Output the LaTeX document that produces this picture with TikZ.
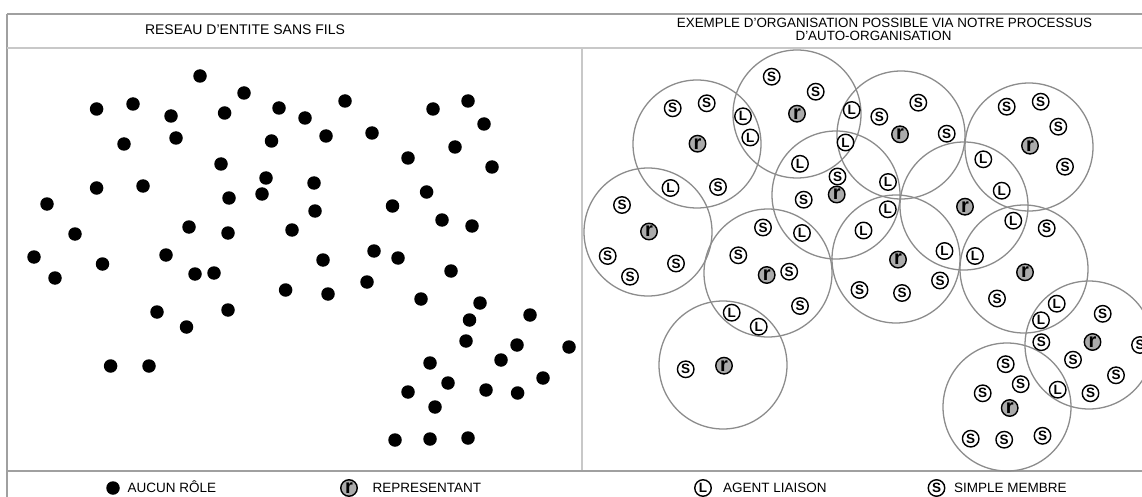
\documentclass[tikz,border=0pt]{standalone}
\usepackage{fontspec}
\setmainfont{Liberation Sans}
\definecolor{circgray}{HTML}{8C8C8C}
\definecolor{linegray}{HTML}{A0A0A0}
\definecolor{lightline}{HTML}{C8C8C8}
\definecolor{repfill}{HTML}{ABABAB}
\begin{document}
\begin{tikzpicture}[x=1pt,y=-1pt,
  blackdot/.style={circle,fill=black,inner sep=0pt,minimum size=13.5pt},
  cluster/.style={circle,draw=circgray,line width=1.3pt,inner sep=0pt,minimum size=128pt},
  sym/.style={circle,draw=black,line width=1.4pt,fill=white,inner sep=0pt,minimum size=16.5pt,
    font=\fontsize{13.5}{14}\selectfont\bfseries},
  rep/.style={sym,fill=repfill,font=\fontsize{20}{20}\selectfont\bfseries},
  title/.style={inner sep=0pt,anchor=base,font=\fontsize{14}{14}\selectfont},
  subtitle/.style={inner sep=0pt,anchor=base,font=\fontsize{13.4}{13.4}\selectfont},
  legtext/.style={inner sep=0pt,anchor=base west,font=\fontsize{13.5}{14}\selectfont}]
\useasboundingbox (0,0) rectangle (1142,497);
\fill[white] (0,0) rectangle (1142,497);
% frame
\draw[linegray,line width=1.2pt] (7,14) -- (1142,14);
\draw[linegray,line width=1.2pt] (7,14) -- (7,497);
\draw[lightline,line width=2pt] (7,48) -- (1142,48);
\draw[lightline,line width=1.6pt] (582,48) -- (582,471);
\draw[linegray,line width=1.2pt] (7,471) -- (1142,471);
% titles
\node[title] (t1) at (245,35) {RESEAU D'ENTITE SANS FILS};
\node[subtitle] (t2) at (884.5,27.8) {EXEMPLE D'ORGANISATION POSSIBLE VIA NOTRE PROCESSUS};
\node[subtitle] (t3) at (873.5,40.8) {D'AUTO-ORGANISATION};
% left panel: entities without role
\foreach \x/\y [count=\i] in {200/76,244/93,96.6/109,133/104,171/116,224.6/113,279/108,305/118,345/101,433/109,468/101,484/124,124/144,176/138,271.5/141,326/136,372/133,455/147,408/158,492/167,221/164,266/178,262/194,314/183,315/211,229/198,96.6/188,143/186,47/204,426.6/192,392.5/206,442/220,472/226,75/234,189/227,228/233,292/230,
34/257,55/278,102.5/264,166/255,195/274,214/273,323/260,374/251,398/258,451/271,285.6/290,328/294,367/282,421/299,480/303,469.5/320,530/315,466/341,517/345,569/347,501/360,430/363,448/383,408/392,486/390,517.6/393,543/378,435/407,157/312,228/310,186.5/327,110.6/366,149/366,395/440,430/439,468/438}
  \node[blackdot] (d\i) at (\x,\y) {};
% right panel: clusters
\node[cluster] (cA) at (697,144) {};
\node[cluster] (cB) at (797,114) {};
\node[cluster] (cC) at (901,135) {};
\node[cluster] (cD) at (1029,147) {};
\node[cluster] (cE) at (836,195) {};
\node[cluster] (cF) at (964,206) {};
\node[cluster] (cG) at (648,232) {};
\node[cluster] (cH) at (768,273) {};
\node[cluster] (cI) at (896,259) {};
\node[cluster] (cJ) at (1024,269) {};
\node[cluster] (cK) at (723,365) {};
\node[cluster] (cL) at (1089,345) {};
\node[cluster] (cM) at (1007,407) {};
% representatives
\foreach \x/\y [count=\i] in {697.5/143.7,797/113.7,900/134.3,1030/145.7,836.7/194.5,965/206.7,649/231.5,766.7/275,898/259.6,1025/272.3,724/365.7,1092.5/342,1009.7/408}
  \node[rep] (r\i) at (\x,\y) {r};
% liaison agents
\foreach \x/\y [count=\i] in {743/116.3,750.3/137.5,670.5/188,851.7/110,845.5/142.5,800/163.8,888/182,887.8/209.3,802/233,863.5/230.5,983.3/159.3,1001.7/190.7,1013.3/220.7,944.5/251,975/256,1056.7/303.7,1041/320.3,731.7/312.7,758.7/326.7,1057.7/389.7}
  \node[sym] (l\i) at (\x,\y) {L};
% simple members
\foreach \x/\y [count=\i] in {672.7/108.3,706.7/103.3,718/187,771.7/76.7,815.7/91.7,879.3/116.7,918.3/102.7,946.7/133.7,1006.7/106.7,1040.7/101.7,1058.3/126.7,1065/166.7,837.5/176.5,803.7/199.7,622/205,607.7/256,630/276.7,676/263.5,763/227.5,738.3/255.3,789.2/271.7,800/306,859.5/290,902/293,940/280.5,1046.7/228.3,997/298.5,685.7/369.3,1041.3/342.2,1102.7/313.8,1073/359.7,1116/375.3,1090.5/393.3,1140/345,1005.7/364.2,1020.7/384.2,982.7/393.3,970.7/438.7,1004.2/439.7,1042.5/435.8}
  \node[sym] (s\i) at (\x,\y) {S};
% legend
\node[blackdot] (k1) at (113,488) {};
\node[legtext] (k1t) at (127.5,492.5) {AUCUN RÔLE};
\node[rep] (k2) at (349,488) {r};
\node[legtext] (k2t) at (372.5,492.5) {REPRESENTANT};
\node[sym] (k3) at (703,488) {L};
\node[legtext] (k3t) at (723,492.5) {AGENT LIAISON};
\node[sym] (k4) at (936.5,488) {S};
\node[legtext] (k4t) at (954,492.5) {SIMPLE MEMBRE};
\end{tikzpicture}
\end{document}
